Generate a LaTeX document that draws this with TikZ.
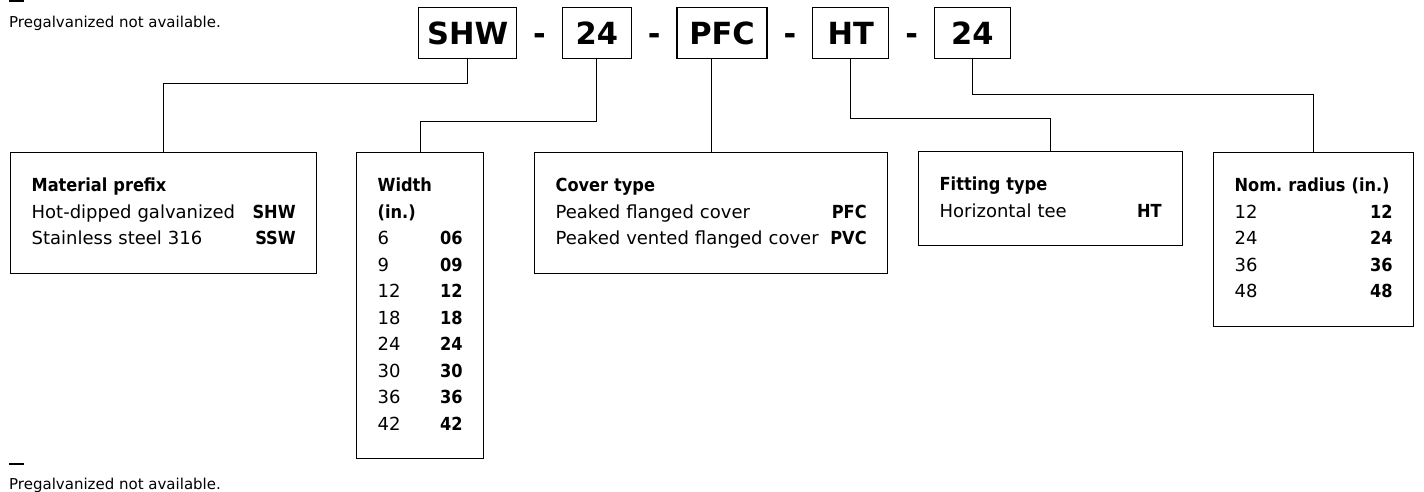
\documentclass[tikz,border=0pt]{standalone}
\usepackage{fontspec}
\setmainfont{DejaVu Sans}[BoldFont={DejaVu Sans Condensed Bold}]
\newfontfamily\codefont{DejaVu Sans}
\usetikzlibrary{positioning}

\begin{document}
\begin{tikzpicture}[
    x=1pt, y=-1pt,
    node distance=0pt,
    codebox/.style={draw, line width=1.3pt, minimum height=51pt, inner sep=0pt,
      text height=22pt, text depth=0pt,
      font=\codefont\fontsize{30.5}{30.5}\selectfont\bfseries},
    gap/.style={minimum width=44pt, minimum height=51pt, inner sep=0pt,
      text height=22pt, text depth=0pt,
      font=\codefont\fontsize{30.5}{30.5}\selectfont\bfseries},
    infobox/.style={draw, line width=1.3pt, anchor=north west, align=left,
      inner xsep=21pt, inner ysep=20.5pt, font=\fontsize{18}{26.5}\selectfont,
      execute at begin node=\strut, execute at end node=\strut},
    link/.style={line width=1.2pt},
    note/.style={anchor=base west, inner sep=0pt, font=\fontsize{15}{18}\selectfont},
    notebar/.style={line width=1.7pt}
  ]
    \useasboundingbox (0,0) rectangle (1424,491);

    % order code
    \node[codebox, anchor=north west, minimum width=98pt] (shw) at (418,7) {SHW};
    \node[gap, right=of shw] (d1) {-};
    \node[codebox, minimum width=69pt, right=of d1] (w24) {24};
    \node[gap, right=of w24] (d2) {-};
    \node[codebox, minimum width=90pt, right=of d2] (pfc) {PFC};
    \node[gap, right=of pfc] (d3) {-};
    \node[codebox, minimum width=76pt, right=of d3] (ht) {HT};
    \node[gap, right=of ht] (d4) {-};
    \node[codebox, minimum width=76pt, right=of d4] (r24) {24};

    % option tables
    \node[infobox, text width=264pt] (mat) at (10,152)
      {\textbf{Material prefix}\\
       Hot-dipped galvanized\hfill\textbf{SHW}\\
       Stainless steel 316\hfill\textbf{SSW}};
    \node[infobox, text width=85pt] (wid) at (356,152)
      {\textbf{Width}\\\textbf{(in.)}\\
       6\hfill\textbf{06}\\9\hfill\textbf{09}\\12\hfill\textbf{12}\\18\hfill\textbf{18}\\
       24\hfill\textbf{24}\\30\hfill\textbf{30}\\36\hfill\textbf{36}\\42\hfill\textbf{42}};
    \node[infobox, text width=311pt] (cov) at (534,152)
      {\textbf{Cover type}\\
       Peaked flanged cover\hfill\textbf{PFC}\\
       Peaked vented flanged cover\hfill\textbf{PVC}};
    \node[infobox, text width=222pt] (fit) at (918,151)
      {\textbf{Fitting type}\\
       Horizontal tee\hfill\textbf{HT}};
    \node[infobox, text width=158pt] (rad) at (1213,152)
      {\textbf{Nom.\ radius (in.)}\\
       12\hfill\textbf{12}\\24\hfill\textbf{24}\\36\hfill\textbf{36}\\48\hfill\textbf{48}};

    \draw[link] (shw.south) -- ++(0,24) -| (mat.north);
    \draw[link] (w24.south) -- ++(0,62) -| (wid.north);
    \draw[link] (cov.north |- pfc.south) -- (cov.north);
    \draw[link] (ht.south) -- ++(0,59) -| (fit.north);
    \draw[link] (r24.south) -- ++(0,35) -| (rad.north);

    % notes
    \draw[notebar] (9,0.8) -- (24,0.8);
    \node[note] (topnote) at (9,27) {Pregalvanized not available.};
    \draw[notebar] (9,464) -- (24,464);
    \node[note] (botnote) at (9,489.5) {Pregalvanized not available.};
  \end{tikzpicture}
\end{document}
